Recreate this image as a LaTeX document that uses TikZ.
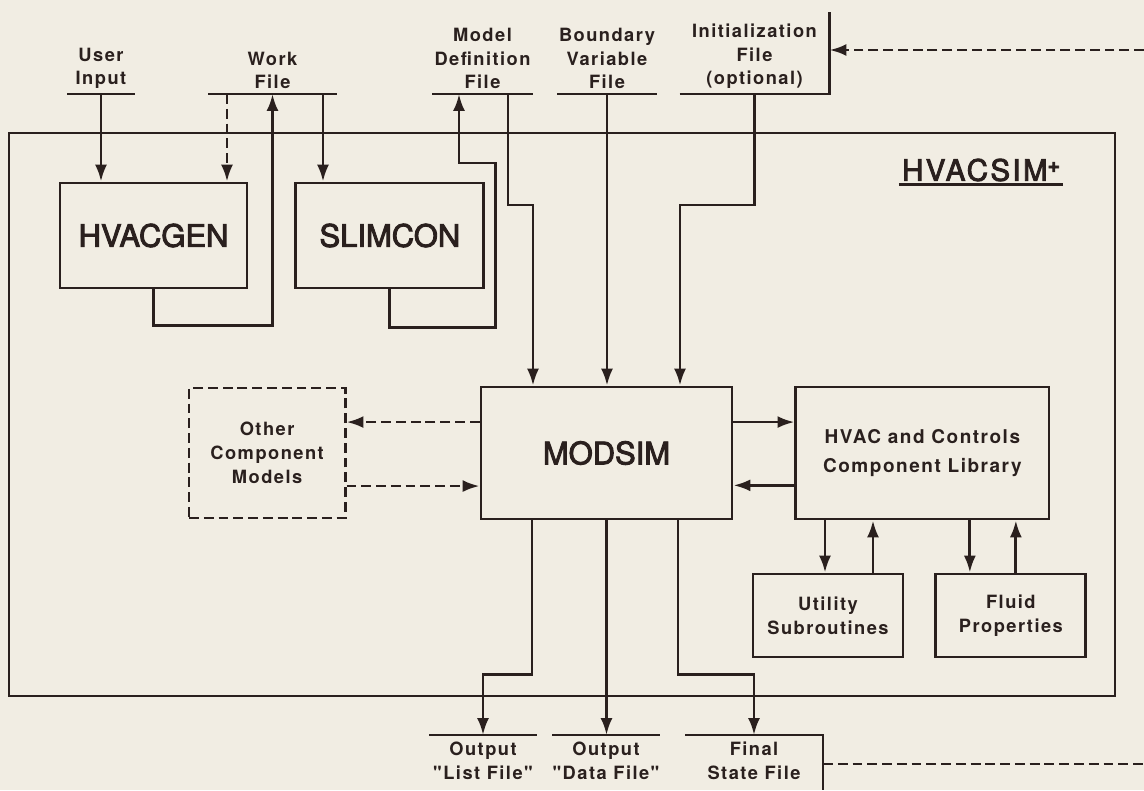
\documentclass[tikz,border=0pt]{standalone}
\usepackage{fontspec}
\setmainfont{TeX Gyre Heros}
\newfontfamily\lblfont[LetterSpace=8]{TeX Gyre Heros}
\newfontfamily\namefont[FakeBold=3]{TeX Gyre Heros}
\newfontfamily\titlefont[FakeBold=3,LetterSpace=8]{TeX Gyre Heros}
\usetikzlibrary{arrows.meta,positioning,calc}
\definecolor{paper}{RGB}{241,237,227}
\definecolor{ink}{RGB}{42,32,30}

\begin{document}
\begin{tikzpicture}[
            x=0.025cm, y=-0.025cm,
            >={Latex[length=12pt,width=8.5pt]},
            box/.style={draw=ink,rectangle,line width=2pt,align=center,inner sep=0pt,text=ink},
            bigbox/.style={box,font=\namefont\fontsize{22}{26}\selectfont},
            smallbox/.style={box,font=\lblfont\bfseries\fontsize{13}{17}\selectfont},
            filetop/.style={anchor=south,minimum width=#1*0.025cm,inner xsep=0pt,inner ysep=4pt,
                            outer sep=0pt,align=center,text=ink,
                            font=\lblfont\bfseries\fontsize{13}{16.5}\selectfont},
            filebot/.style={filetop=#1,anchor=north,inner ysep=5pt,
                            font=\lblfont\bfseries\fontsize{13}{17}\selectfont},
            fline/.style={draw=ink,line width=2pt},
            line/.style={fline,->},
            dline/.style={fline,dash pattern=on 7pt off 3.5pt}
        ]
        \path[use as bounding box,fill=paper] (0,0) rectangle (1144,790);
        % system frame
        \node[box,line width=1.8pt,minimum width=27.65cm,minimum height=14.075cm] (sys) at (562,414.5) {};
        \node[text=ink,inner sep=2pt,font=\titlefont\fontsize{21}{24}\selectfont] (hvs) at (981,170)
            {HVACSIM\raisebox{0.55ex}{\bfseries\fontsize{15}{15}\selectfont+}};
        \draw[fline] (hvs.south west) -- (hvs.south east);
        % programs
        \node[bigbox,minimum width=4.675cm,minimum height=2.625cm] (hgen) at (153.5,235.5) {HVACGEN};
        \node[bigbox,minimum width=4.7cm,minimum height=2.625cm,right=1.15cm of hgen] (slim) {SLIMCON};
        \node[bigbox,minimum width=6.275cm,minimum height=3.3cm] (mods) at (606.5,453) {MODSIM};
        \node[box,font=\lblfont\bfseries\fontsize{13.5}{21}\selectfont,minimum width=6.325cm,
              minimum height=3.3cm,right=1.525cm of mods] (lib) {HVAC and Controls\\Component Library};
        \node[smallbox,dash pattern=on 7pt off 3.5pt,minimum width=3.9cm,minimum height=3.25cm,
              left=3.325cm of mods] (oth) {Other\\Component\\Models};
        \node[smallbox,minimum width=3.75cm,minimum height=2.075cm] (util) at (828,615.5) {Utility\\Subroutines};
        \node[smallbox,minimum width=3.75cm,minimum height=2.075cm,right=0.75cm of util] (fluid) {Fluid\\Properties};
        % files
        \node[filetop=68] (uin) at (101,94) {User\\Input};
        \node[filetop=129] (wf) at (272.5,94) {Work\\File};
        \node[filetop=101] (mdf) at (482.5,94) {Model\\Definition\\File};
        \node[filetop=100] (bvf) at (607,94) {Boundary\\Variable\\File};
        \node[filetop=150] (ini) at (754.5,94) {Initialization\\File\\(optional)};
        \node[filebot=108] (lst) at (483,735) {Output\\"List File"};
        \node[filebot=108] (dat) at (606,735) {Output\\"Data File"};
        \node[filebot=138] (fin) at (754,735) {Final\\State File};
        \foreach \f in {uin,wf,mdf,bvf}
            \draw[fline] (\f.south west) -- (\f.south east);
        \draw[fline] (ini.south west) -- (ini.south east) -- ++(0,-82);
        \foreach \f in {lst,dat}
            \draw[fline] (\f.north west) -- (\f.north east);
        \draw[fline] (fin.north west) -- (fin.north east) -- ++(0,55);
        % restart loop (leaves the page)
        \coordinate (loopin) at (1144,50);
        \coordinate (loopout) at (1144,764);
        \draw[dline,->] (loopin) -- (loopin -| ini.south east);
        \draw[dline] ($(fin.north east)+(0,29)$) -- (loopout);
        % HVACGEN and SLIMCON
        \coordinate (wfa) at ($(wf.south)+(-45.5,0)$);
        \coordinate (wfb) at ($(wf.south)+(50.5,0)$);
        \coordinate (mdfa) at ($(mdf.south)+(-23.5,0)$);
        \coordinate (mdfb) at ($(mdf.south)+(25.5,0)$);
        \draw[line] (uin.south) -- (uin.south |- hgen.north);
        \draw[dline,->] (wfa) -- (wfa |- hgen.north);
        \draw[line] (hgen.south) -- ++(0,36) -| (wf.south);
        \draw[line] (wfb) -- (wfb |- slim.north);
        \draw[line] (slim.south) -- ++(0,38) -- ++(106,0) |- ($(mdfa)+(0,69)$) -- (mdfa);
        % MODSIM inputs
        \draw[line] (mdfb) -- ++(0,111) -| ($(mods.north)+(-73.5,0)$);
        \draw[line] (bvf.south) -- (bvf.south |- mods.north);
        \draw[line] (ini.south) -- ++(0,111) -| ($(mods.north)+(73.5,0)$);
        % component models
        \draw[dline,->] ([yshift=22pt]mods.west) -- ([yshift=22pt]oth.east);
        \draw[dline,->] ([yshift=-23.5pt]oth.east) -- ([yshift=-23.5pt]mods.west);
        \draw[line] ([yshift=22pt]mods.east) -- ([yshift=22pt]lib.west);
        \draw[line] ([yshift=-23pt]lib.west) -- ([yshift=-23pt]mods.east);
        \coordinate (ua) at ($(util.north)+(-3,0)$);
        \coordinate (ub) at ($(util.north)+(45,0)$);
        \coordinate (fa) at ($(fluid.north)+(-41,0)$);
        \coordinate (fb) at ($(fluid.north)+(5,0)$);
        \draw[line] (ua |- lib.south) -- (ua);
        \draw[line] (ub) -- (ub |- lib.south);
        \draw[line] (fa |- lib.south) -- (fa);
        \draw[line] (fb) -- (fb |- lib.south);
        % outputs
        \draw[line] ($(mods.south)+(-74.5,0)$) -- ++(0,154) -| (lst.north);
        \draw[line] (mods.south) -- (mods.south |- dat.north);
        \draw[line] ($(mods.south)+(71.5,0)$) -- ++(0,154) -| (fin.north);
\end{tikzpicture}
\end{document}
